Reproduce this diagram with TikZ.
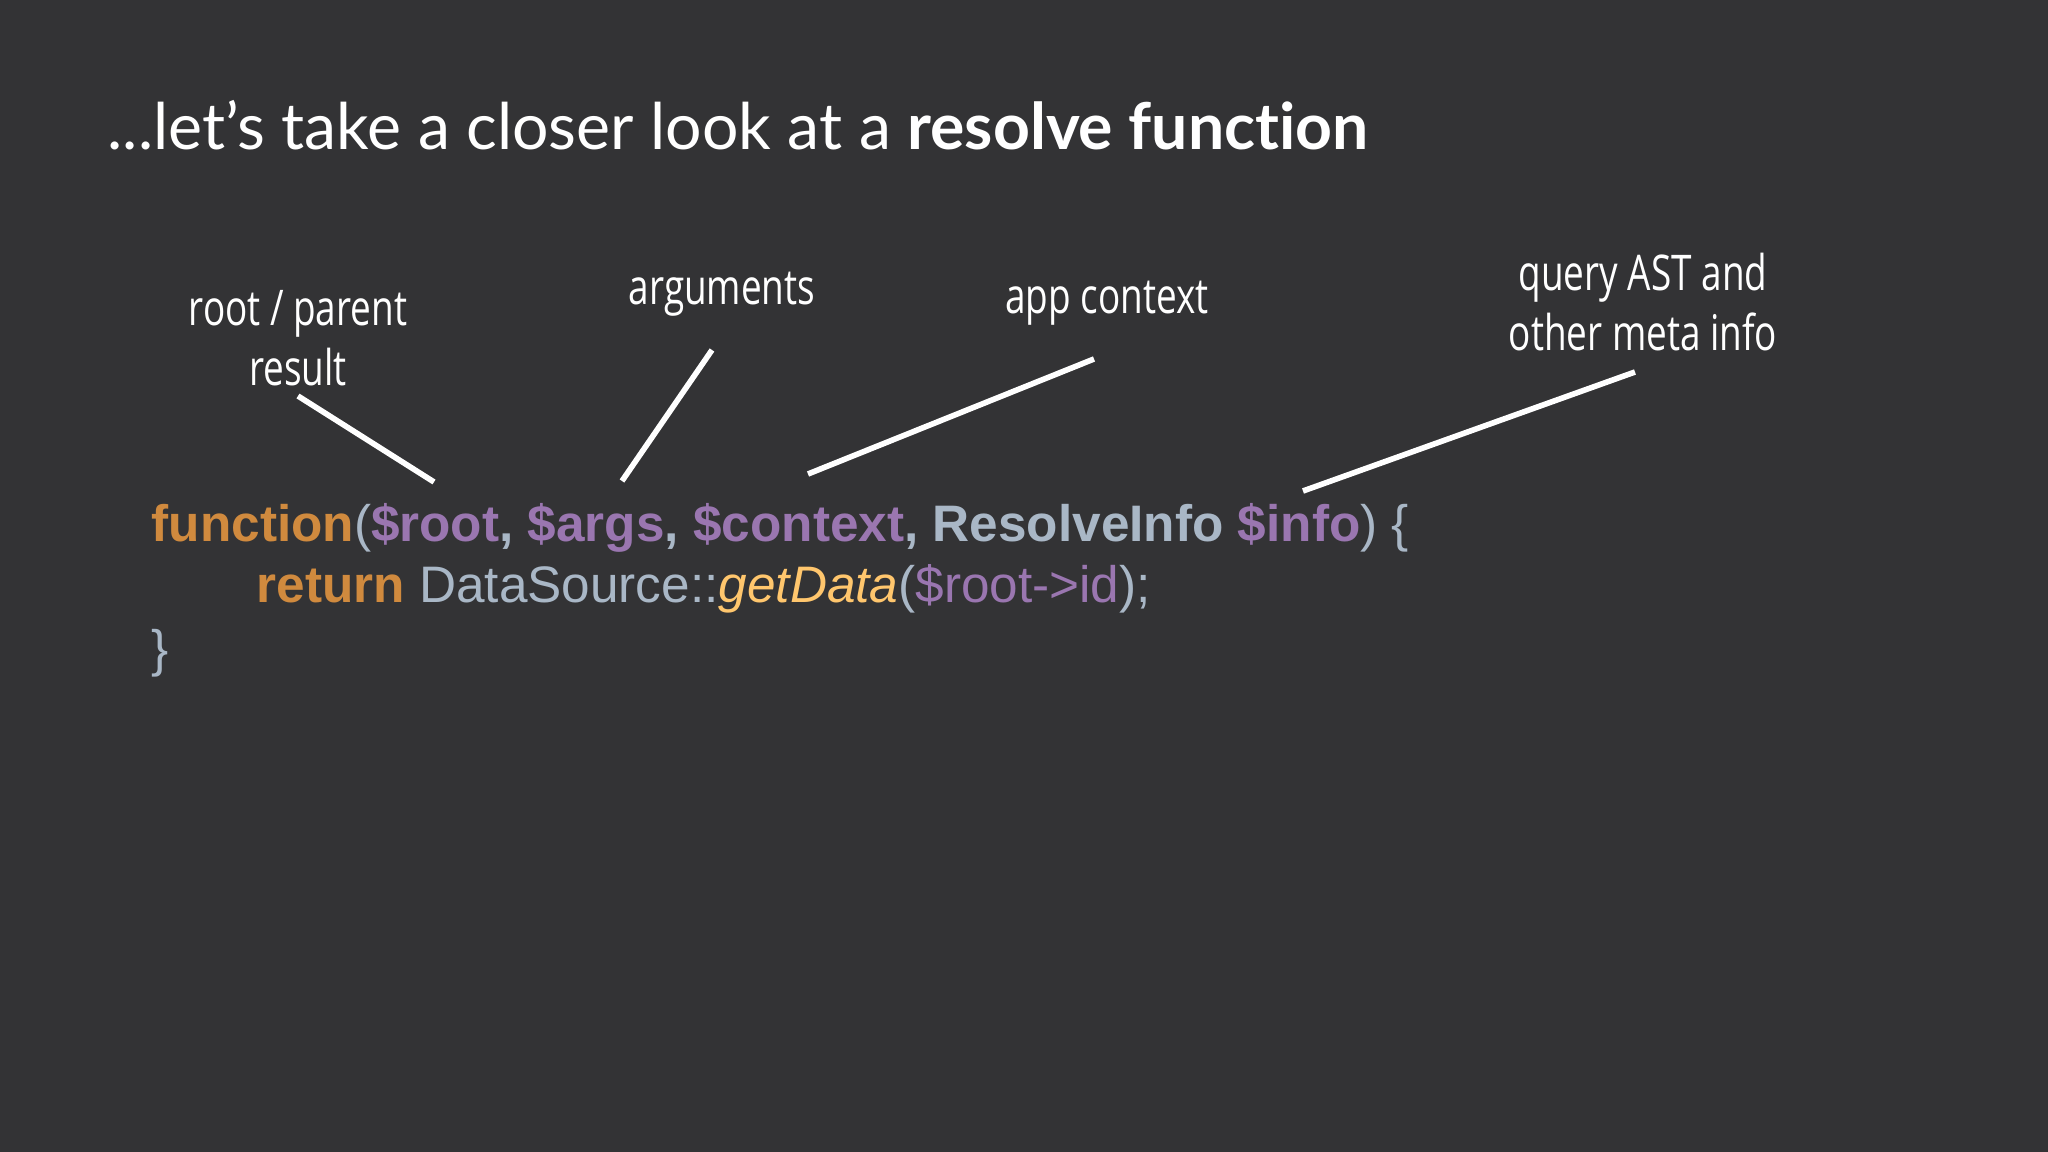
\documentclass[tikz,border=0pt]{standalone}
\usepackage{fontspec}
\setmainfont{Lato}[Ligatures=NoCommon]
\newfontfamily\codefont{Liberation Sans}
\newfontfamily\handfont{Open Sans}[FakeStretch=0.75]
\definecolor{bg}{HTML}{333335}
\definecolor{kw}{HTML}{D08A3E}
\definecolor{vr}{HTML}{9A76B0}
\definecolor{pl}{HTML}{A9B7C6}
\definecolor{fn}{HTML}{FFC66D}
\tikzset{
 hand/.style={text=white,font=\handfont\fontsize{14}{17}\selectfont,align=center,inner sep=0pt},
 lead/.style={draw=white,line width=1.6pt},
 code/.style={anchor=base west,inner sep=0pt,font=\codefont\fontsize{14.6}{18}\selectfont}
}
\begin{document}
\begin{tikzpicture}[x=1cm,y=1cm]
\fill[bg] (0,0) rectangle (20.48,-11.52);
\useasboundingbox (0,0) rectangle (20.48,-11.52);
\node[anchor=base west,inner sep=0pt,text=white,font=\fontsize{18.3}{22}\selectfont] (title) at (1.07,-1.50) {...let’s take a closer look at a \textbf{resolve function}};
\node[hand] (l1) at (2.98,-3.38) {root / parent\\result};
\node[hand] (l2) at (7.22,-2.94) {arguments};
\node[hand] (l3) at (11.07,-3.03) {app context};
\node[hand] (l4) at (16.43,-3.02) {query AST and\\other meta info};
\node[code] (c1) at (1.51,-5.42) {\bfseries\color{kw}function\mdseries\color{pl}(\bfseries\color{vr}\$root\color{pl}, \color{vr}\$args\color{pl}, \color{vr}\$context\color{pl}, ResolveInfo \color{vr}\$info\mdseries\color{pl}) \{};
\node[code] (c2) at (2.56,-6.03) {\bfseries\color{kw}return \mdseries\color{pl}DataSource::\color{fn}\itshape getData\upshape\color{pl}(\color{vr}\$root->id\color{pl});};
\node[code] (c3) at (1.51,-6.66) {\color{pl}\}};
\coordinate (a1) at (2.98,-3.96); \coordinate (b1) at (4.34,-4.82);
\coordinate (a2) at (7.12,-3.50); \coordinate (b2) at (6.22,-4.81);
\coordinate (a3) at (10.94,-3.59); \coordinate (b3) at (8.08,-4.74);
\coordinate (a4) at (16.35,-3.72); \coordinate (b4) at (13.03,-4.91);
\draw[lead] (a1) -- (b1);
\draw[lead] (a2) -- (b2);
\draw[lead] (a3) -- (b3);
\draw[lead] (a4) -- (b4);
\end{tikzpicture}
\end{document}
